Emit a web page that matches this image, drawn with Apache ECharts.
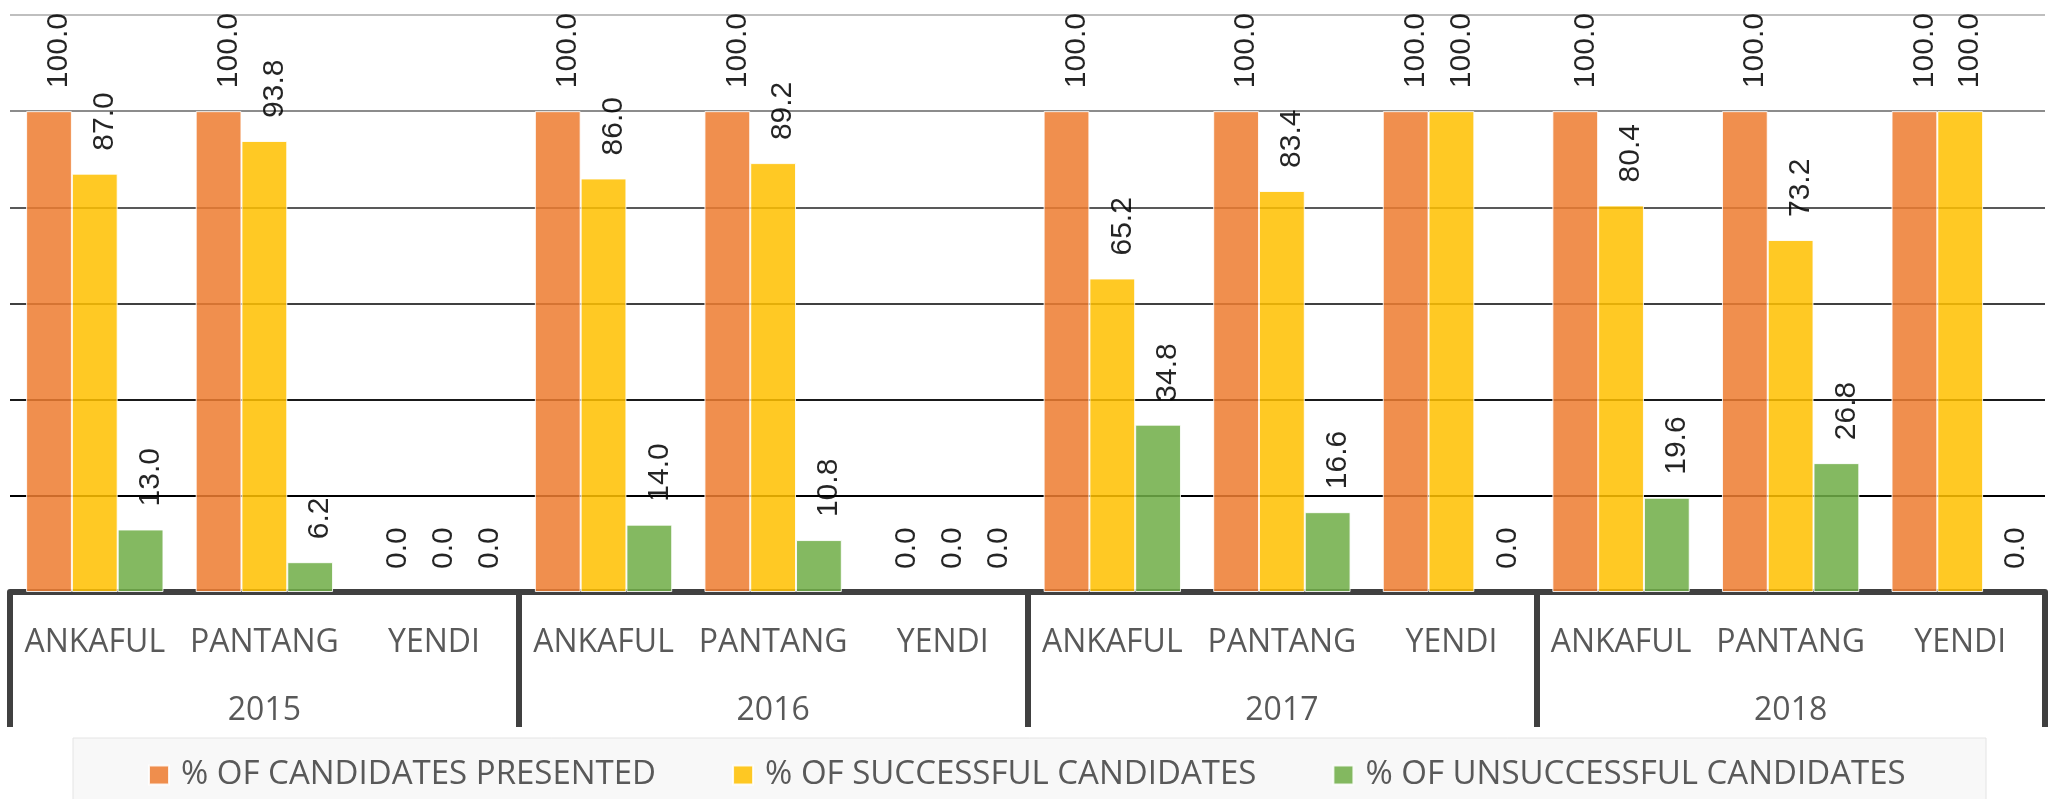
<!DOCTYPE html>
<html lang="en">
<head>
    <meta charset="UTF-8">
    <title>Candidates</title>
    <script src="https://cdn.jsdelivr.net/npm/echarts@6/dist/echarts.min.js"></script>
    <style>
        html, body { margin: 0; padding: 0; background: #fff; }
    </style>
</head>
<body>
<div id="main" style="width: 2050px;height:799px"></div>
<script>
    const years = ['2015', '2016', '2017', '2018']
    const sites = ['ANKAFUL', 'PANTANG', 'YENDI']
    const seriesNames = ['% OF CANDIDATES PRESENTED', '% OF SUCCESSFUL CANDIDATES', '% OF UNSUCCESSFUL CANDIDATES']
    const presented = [100, 100, 0, 100, 100, 0, 100, 100, 100, 100, 100, 100]
    const successful = [87.0, 93.8, 0, 86.0, 89.2, 0, 65.2, 83.4, 100, 80.4, 73.2, 100]
    const unsuccessful = [13.0, 6.2, 0, 14.0, 10.8, 0, 34.8, 16.6, 0, 19.6, 26.8, 0]
    const colors = ['#ED7D31', '#FFC000', '#70AD47']

    // one category per site per year
    const categories = []
    years.forEach(function () {
        sites.forEach(function (s) { categories.push(s) })
    })

    const myChart = echarts.init(document.getElementById('main'))

    function barSeries(name, data, color) {
        return {
            name: name,
            type: 'bar',
            xAxisIndex: 0,
            // zero bars get no border so no stray line shows above the axis
            data: data.map(function (v) {
                return v === 0 ? { value: v, itemStyle: { borderWidth: 0 } } : v
            }),
            barGap: '0%',
            barCategoryGap: '19%',
            itemStyle: {
                color: color,
                opacity: 0.86,
                borderColor: '#fff',
                borderWidth: 1
            },
            label: {
                show: true,
                position: 'top',
                rotate: 90,
                align: 'left',
                verticalAlign: 'middle',
                distance: 23,
                offset: [0, 10], // rotated frame: second value pushes it right
                fontFamily: 'Liberation Sans',
                fontSize: 30,
                color: '#000',
                formatter: function (p) { return p.value.toFixed(1) }
            }
        }
    }

    const option = {
        backgroundColor: '#fff',
        animation: false,
        grid: {
            left: 10,
            right: 5,
            top: 15,
            bottom: 207
        },
        graphic: [{
            type: 'rect',
            z: -1,
            shape: { x: 73, y: 738, width: 1913, height: 70 },
            style: { fill: '#f8f8f8', stroke: '#e4e4e4', lineWidth: 1 }
        }],
        legend: {
            left: 148,
            top: 752,
            padding: 0,
            itemGap: 76,
            itemWidth: 20,
            itemHeight: 19,
            icon: 'rect',
            textStyle: {
                fontFamily: 'Open Sans',
                fontSize: 33,
                color: '#595959',
                lineHeight: 40,
                padding: [6, 0, 0, 7]
            },
            data: seriesNames
        },
        xAxis: [
            {
                type: 'category',
                data: categories,
                position: 'bottom',
                axisLine: { show: false },
                axisTick: { show: false },
                axisLabel: {
                    interval: 0,
                    margin: 31,
                    fontFamily: 'Open Sans',
                    fontSize: 32,
                    lineHeight: 40,
                    color: '#595959'
                }
            },
            {
                type: 'category',
                data: years,
                position: 'bottom',
                axisLine: { show: true, lineStyle: { color: '#404040', width: 6 } },
                axisTick: { show: true, interval: 0, length: 135, lineStyle: { color: '#404040', width: 6 } },
                axisLabel: {
                    margin: 99,
                    fontFamily: 'Open Sans',
                    fontSize: 32,
                    lineHeight: 40,
                    color: '#595959'
                }
            }
        ],
        yAxis: {
            type: 'value',
            min: 0,
            max: 120,
            interval: 20,
            axisLabel: { show: false },
            axisLine: { show: false },
            axisTick: { show: false },
            splitLine: {
                show: true,
                lineStyle: {
                    width: 2,
                    color: ['#000', '#000', '#1a1a1a', '#404040', '#595959', '#8c8c8c', '#bfbfbf']
                }
            }
        },
        series: [
            barSeries(seriesNames[0], presented, colors[0]),
            barSeries(seriesNames[1], successful, colors[1]),
            barSeries(seriesNames[2], unsuccessful, colors[2])
        ]
    }

    myChart.setOption(option)
</script>
</body>
</html>
